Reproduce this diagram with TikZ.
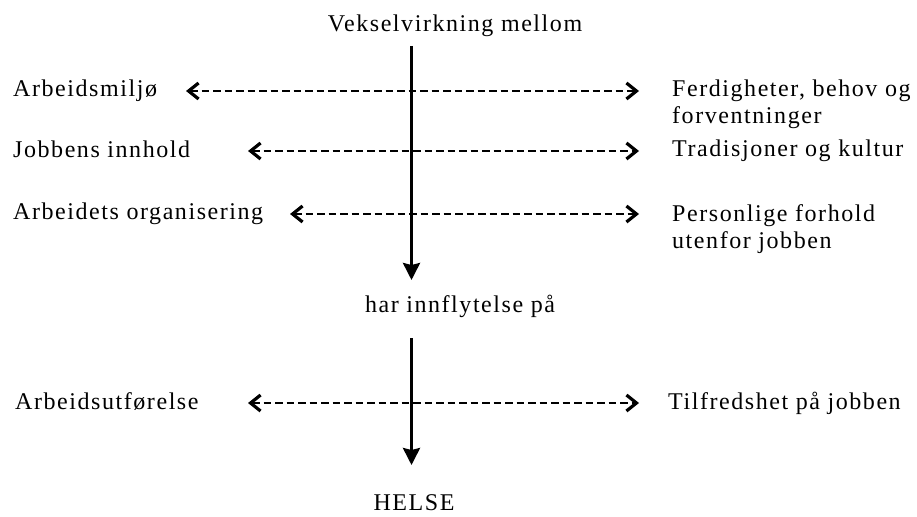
\documentclass[tikz,border=0pt]{standalone}
\usepackage{fontspec}
\setmainfont{Liberation Serif}[LetterSpace=6.5]
\usetikzlibrary{arrows.meta}
\tikzset{
  lbl/.style={inner sep=0pt, font=\fontsize{24}{24}\selectfont, anchor=base west, align=left},
  ctr/.style={inner sep=0pt, font=\fontsize{24}{24}\selectfont, anchor=base},
  barb/.tip={Straight Barb[length=10pt,width=16pt,line width=3.2pt]},
  dasharrow/.style={line width=2.8pt, dash pattern=on 7.5pt off 4pt, barb-barb},
  mainarrow/.style={line width=3pt, -{Stealth[length=17pt,width=17pt,inset=2pt]}}
}
\begin{document}
\begin{tikzpicture}[x=1pt,y=-1pt]
\useasboundingbox (0,0) rectangle (917,516);

% texts (base anchor of a two-line node is the baseline of its last line)
\node[ctr] (title) at (455,32) {Vekselvirkning mellom};
\node[lbl] (a1) at (13,97) {Arbeidsmiljø};
\node[lbl] (a2) at (13,157) {Jobbens innhold};
\node[lbl] (a3) at (13,219) {Arbeidets organisering};
\node[lbl] (b1) at (672,124) {Ferdigheter, behov og\\[3pt]forventninger};
\node[lbl] (b2) at (672,156) {Tradisjoner og kultur};
\node[lbl] (b3) at (672,248) {Personlige forhold\\[3pt]utenfor jobben};
\node[ctr] (mid) at (460,312) {har innflytelse på};
\node[lbl] (a4) at (15,409) {Arbeidsutførelse};
\node[lbl] (b4) at (668,409) {Tilfredshet på jobben};
\node[ctr] (helse) at (414,510) {HELSE};

% arrow end points
\coordinate (l1) at (186,91);  \coordinate (r1) at (639,91);
\coordinate (l2) at (248,151); \coordinate (r2) at (639,151);
\coordinate (l3) at (290,214); \coordinate (r3) at (639,214);
\coordinate (l4) at (248,403); \coordinate (r4) at (639,403);
\coordinate (v1s) at (411.5,46);  \coordinate (v1e) at (411.5,280);
\coordinate (v2s) at (411.5,338); \coordinate (v2e) at (411.5,465);

% dashed double arrows
\draw[dasharrow] (l1) -- (r1);
\draw[dasharrow] (l2) -- (r2);
\draw[dasharrow] (l3) -- (r3);
\draw[dasharrow] (l4) -- (r4);

% vertical arrows
\draw[mainarrow] (v1s) -- (v1e);
\draw[mainarrow] (v2s) -- (v2e);
\end{tikzpicture}
\end{document}
